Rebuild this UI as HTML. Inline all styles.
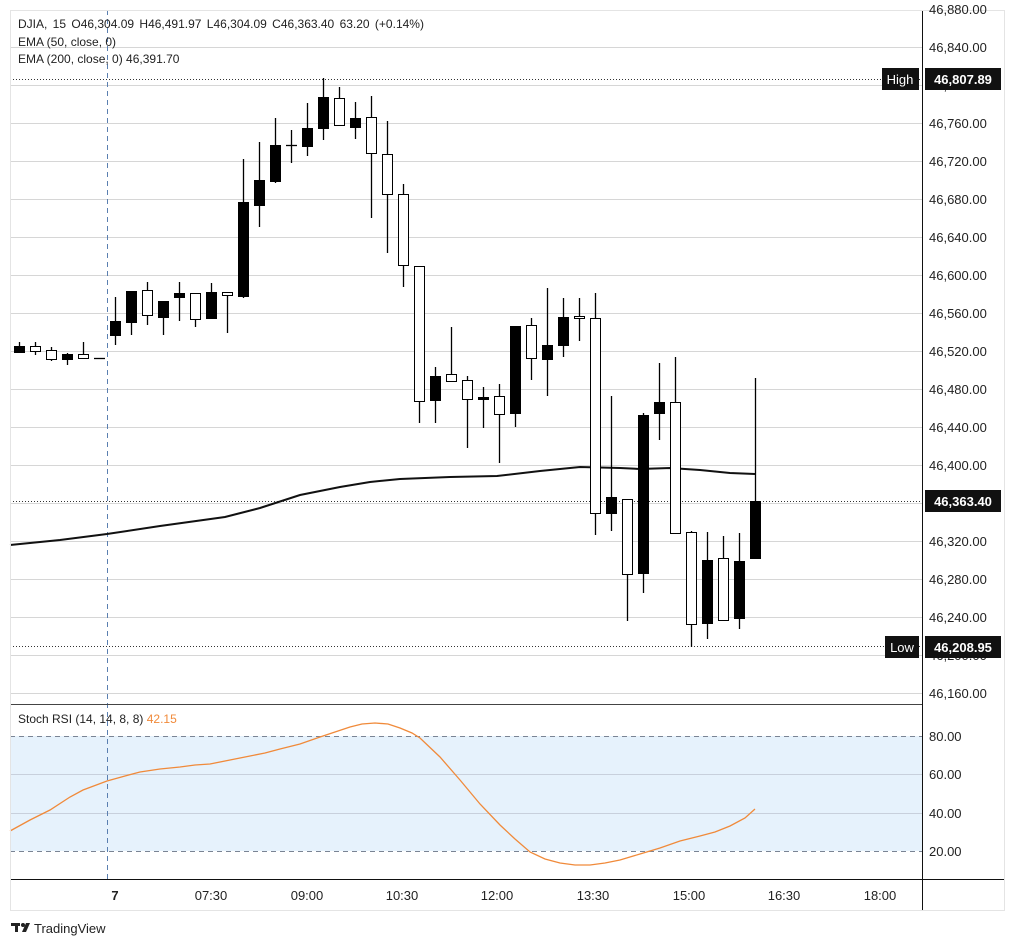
<!DOCTYPE html>
<html><head><meta charset="utf-8"><style>
html,body{margin:0;padding:0;background:#fff;}
svg{display:block;font-family:"Liberation Sans",sans-serif;}
</style></head><body>
<svg id="s" width="1014" height="946" viewBox="0 0 1014 946" xmlns="http://www.w3.org/2000/svg">
<rect width="1014" height="946" fill="#fff"/>
<g id="grid" stroke="#d6d6d6" stroke-width="1"></g>
<rect x="10" y="736" width="912" height="115" fill="#e6f2fc"/>
<line x1="10" y1="774.5" x2="922" y2="774.5" stroke="#c8d0dc"/>
<line x1="10" y1="813.5" x2="922" y2="813.5" stroke="#c8d0dc"/>
<line x1="10" y1="736.5" x2="922" y2="736.5" stroke="#7a8494" stroke-dasharray="5,4"/>
<line x1="10" y1="851.5" x2="922" y2="851.5" stroke="#7a8494" stroke-dasharray="5,4"/>
<line x1="107.5" y1="10" x2="107.5" y2="879" stroke="#5a7fb0" stroke-dasharray="5,4"/>
<line x1="10" y1="79.5" x2="922" y2="79.5" stroke="#333" stroke-dasharray="1,2"/>
<line x1="10" y1="501.5" x2="922" y2="501.5" stroke="#333" stroke-dasharray="1,2"/>
<line x1="10" y1="646.5" x2="922" y2="646.5" stroke="#333" stroke-dasharray="1,2"/>
<polyline fill="none" stroke="#111" stroke-width="2" points="10,545 60,540 107,534 160,526 225,517 260,508 300,495 340,487 370,482 400,479 450,477 497,476 540,471 580,467 620,468 640,469 670,468 700,470 730,473 755,474"/>
<g id="c"></g>
<polyline fill="none" stroke="#f08a3a" stroke-width="1.3" points="10,831 30,820 50,810 70,797 83,790 107,781 125,776 140,772 160,769 180,767 195,765 210,764 230,760 250,756 265,753 280,749 300,744 320,737 335,732 350,727 362,724 375,723 388,724 400,728 412,733 420,738 440,757 460,780 480,804 500,825 515,839 530,852 545,859 560,863 575,865 590,865 605,863 620,860 640,854 660,848 680,841 700,836 715,832 730,826 745,818 755,809"/>
<line x1="10" y1="704.5" x2="922" y2="704.5" stroke="#444"/>
<line x1="10" y1="879.5" x2="1004" y2="879.5" stroke="#111"/>
<line x1="922.5" y1="10" x2="922.5" y2="910" stroke="#111"/>
<rect x="10.5" y="10.5" width="994" height="900" fill="none" stroke="#e4e4e4"/>
<g id="lab" font-size="13" fill="#222"></g>
<g font-size="12" fill="#222">
<text x="18" y="28" word-spacing="2">DJIA, 15  O46,304.09  H46,491.97  L46,304.09  C46,363.40  63.20 (+0.14%)</text>
<text x="18" y="46">EMA (50, close, 0)</text>
<text x="18" y="63">EMA (200, close, 0)  46,391.70</text>
<text x="18" y="723">Stoch RSI (14, 14, 8, 8)  <tspan fill="#f08a3a">42.15</tspan></text>
</g>
<g font-size="13" fill="#222" text-anchor="middle">
<text x="115" y="900" font-weight="bold">7</text>
<text x="211" y="900">07:30</text><text x="307" y="900">09:00</text><text x="402" y="900">10:30</text>
<text x="497" y="900">12:00</text><text x="593" y="900">13:30</text><text x="689" y="900">15:00</text>
<text x="784" y="900">16:30</text><text x="880" y="900">18:00</text>
</g>
<rect x="882" y="68" width="37" height="22" fill="#111"/><text x="900" y="84" font-size="13" fill="#fff" text-anchor="middle">High</text>
<rect x="925" y="68" width="76" height="22" fill="#111"/><text x="963" y="84" font-size="13" fill="#fff" text-anchor="middle" font-weight="bold">46,807.89</text>
<rect x="925" y="490" width="76" height="22" fill="#111"/><text x="963" y="506" font-size="13" fill="#fff" text-anchor="middle" font-weight="bold">46,363.40</text>
<rect x="885" y="636" width="34" height="22" fill="#111"/><text x="902" y="652" font-size="13" fill="#fff" text-anchor="middle">Low</text>
<rect x="925" y="636" width="76" height="22" fill="#111"/><text x="963" y="652" font-size="13" fill="#fff" text-anchor="middle" font-weight="bold">46,208.95</text>
<g fill="#222"><rect x="11" y="923" width="9" height="3"/><rect x="15" y="923" width="3" height="9"/><circle cx="23" cy="925" r="2"/><polygon points="26,923 30,923 26,932 22,932"/></g>
<text x="34" y="933" font-size="13" fill="#222">TradingView</text>
</svg>
<script>
var NS="http://www.w3.org/2000/svg";
function el(p,t,a){var e=document.createElementNS(NS,t);for(var k in a)e.setAttribute(k,a[k]);p.appendChild(e);return e;}
var g=document.getElementById("grid"),lab=document.getElementById("lab");
for(var i=0;i<18;i++){var y=47+i*38;el(g,"line",{x1:10,y1:y+.5,x2:922,y2:y+.5});
 var v=46840-i*40;var t=el(lab,"text",{x:929,y:y+5});t.textContent=v.toLocaleString("en-US")+".00";}
var t0=el(lab,"text",{x:929,y:14});t0.textContent="46,880.00";
[[80,736],[60,774],[40,813],[20,851]].forEach(function(a){var t=el(lab,"text",{x:929,y:a[1]+5});t.textContent=a[0].toFixed(2);});
var C=[[19,342,353,346,352,1],[35,342,355,346,351,0],[51,347,361,350,359,0],[67,353,365,354,359,1],[83,342,358,354,358,0],[99,358,358,358,358,1],
[115,297,345,321,335,1],[131,291,335,291,322,1],[147,282,325,290,315,0],[163,301,335,301,317,1],[179,282,321,293,297,1],[195,293,327,293,319,0],
[211,283,318,292,318,1],[227,292,333,292,295,0],[243,159,298,202,296,1],[259,142,227,180,205,1],[275,118,183,145,181,1],[291,130,163,145,145,1],
[307,103,156,128,146,1],[323,78,140,97,128,1],[339,87,125,98,125,0],[355,102,139,118,127,1],[371,96,218,117,153,0],[387,121,253,154,194,0],
[403,184,287,194,265,0],[419,266,423,266,401,0],[435,367,423,376,400,1],[451,327,381,374,381,0],[467,376,448,380,399,0],[483,387,428,397,399,1],
[499,384,463,396,414,0],[515,326,427,326,413,1],[531,318,380,325,358,0],[547,288,396,345,359,1],[563,298,357,317,345,1],[579,298,341,316,318,0],
[595,293,535,318,513,0],[611,396,531,497,513,1],[627,499,621,499,574,0],[643,413,593,415,573,1],[659,363,440,402,413,1],[675,357,533,402,533,0],
[691,531,647,532,624,0],[707,532,639,560,623,1],[723,536,621,558,620,0],[739,533,629,561,618,1],[755,378,558,501,558,1]];
var c=document.getElementById("c");
C.forEach(function(d){var x=d[0];el(c,"line",{x1:x+.5,y1:d[1],x2:x+.5,y2:d[2],stroke:"#000","stroke-width":1.3});
 var h=Math.max(d[4]-d[3],1);
 if(d[3]==d[4]){el(c,"line",{x1:x-5,y1:d[3]+.5,x2:x+6,y2:d[3]+.5,stroke:"#000","stroke-width":1.3});}
 else el(c,"rect",{x:x-4.5,y:d[3]+.5,width:10,height:h,fill:d[5]?"#000":"#fff",stroke:"#000","stroke-width":1});});
</script>
</body></html>
